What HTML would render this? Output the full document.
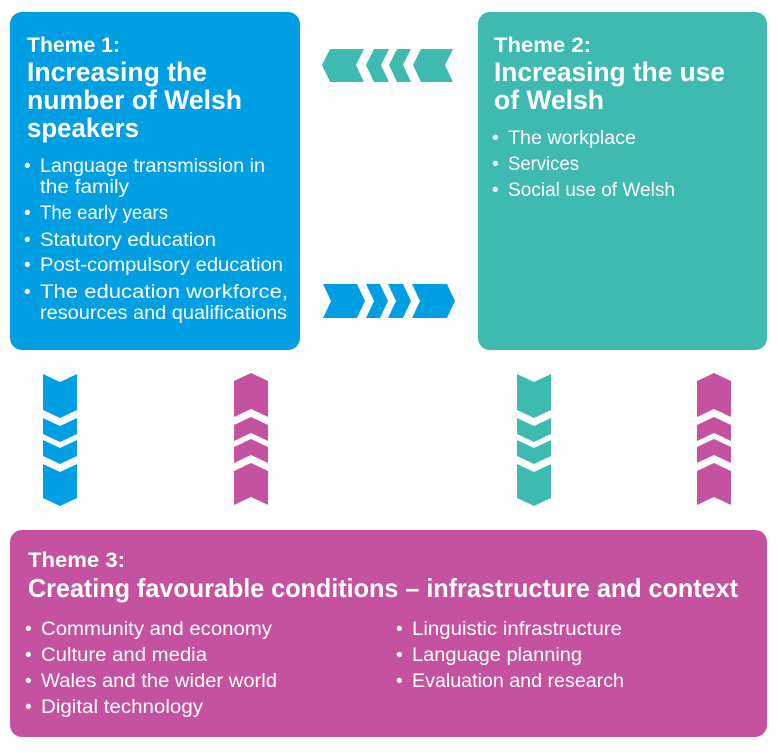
<!DOCTYPE html>
<html><head><meta charset="utf-8"><style>html,body{margin:0;padding:0;background:#fff}svg{display:block}</style></head>
<body>
<svg width="778" height="753" viewBox="0 0 778 753" xmlns="http://www.w3.org/2000/svg" font-family="Liberation Sans, sans-serif" fill="#fff">
<rect x="10" y="12" width="290" height="338" rx="12" fill="#009fe3"/>
<rect x="478" y="12" width="289" height="338" rx="12" fill="#3fbab1"/>
<rect x="10" y="530" width="757" height="207" rx="12" fill="#c452a0"/>

<g fill="#3fbab1">
<polygon points="322,65 330,49 364,49 356,65 364,82 330,82"/>
<polygon points="366,65 374,49 389,49 381,65 389,82 374,82"/>
<polygon points="389,65 397,49 411,49 403,65 411,82 397,82"/>
<polygon points="413,65 421,49 453,49 445,65 453,82 421,82"/>
</g>
<g fill="#009fe3">
<polygon points="323,284 357,284 365,301 357,318 323,318 331,301"/>
<polygon points="366,284 380,284 388,301 380,318 366,318 374,301"/>
<polygon points="388,284 403,284 411,301 403,318 388,318 396,301"/>
<polygon points="412,284 447,284 455,301 447,318 412,318 420,301"/>
</g>
<g fill="#009fe3">
<polygon points="43,374 60,382 77,374 77,410 60,418 43,410"/>
<polygon points="43,418 60,426 77,418 77,434 60,442 43,434"/>
<polygon points="43,440 60,448 77,440 77,456 60,464 43,456"/>
<polygon points="43,464 60,472 77,464 77,498 60,506 43,498"/>
</g>
<g fill="#3fbab1" transform="translate(474,0)">
<polygon points="43,374 60,382 77,374 77,410 60,418 43,410"/>
<polygon points="43,418 60,426 77,418 77,434 60,442 43,434"/>
<polygon points="43,440 60,448 77,440 77,456 60,464 43,456"/>
<polygon points="43,464 60,472 77,464 77,498 60,506 43,498"/>
</g>
<g fill="#c452a0" transform="translate(191,0)">
<polygon points="43,381 60,373 77,381 77,417 60,409 43,417"/>
<polygon points="43,425 60,417 77,425 77,441 60,433 43,441"/>
<polygon points="43,447 60,439 77,447 77,463 60,455 43,463"/>
<polygon points="43,471 60,463 77,471 77,505 60,497 43,505"/>
</g>
<g fill="#c452a0" transform="translate(654,0)">
<polygon points="43,381 60,373 77,381 77,417 60,409 43,417"/>
<polygon points="43,425 60,417 77,425 77,441 60,433 43,441"/>
<polygon points="43,447 60,439 77,447 77,463 60,455 43,463"/>
<polygon points="43,471 60,463 77,471 77,505 60,497 43,505"/>
</g>

<g font-weight="bold" lengthAdjust="spacingAndGlyphs">
<text x="27" y="52" font-size="21" textLength="93" lengthAdjust="spacingAndGlyphs">Theme 1:</text>
<text x="27" y="81" font-size="27" textLength="180" lengthAdjust="spacingAndGlyphs">Increasing the</text>
<text x="27" y="109" font-size="27" textLength="215" lengthAdjust="spacingAndGlyphs">number of Welsh</text>
<text x="27" y="137" font-size="27" textLength="112" lengthAdjust="spacingAndGlyphs">speakers</text>
</g>
<g font-size="19">
<text x="24" y="172">•</text><text x="40" y="172" textLength="225" lengthAdjust="spacingAndGlyphs">Language transmission in</text>
<text x="40" y="193" textLength="89" lengthAdjust="spacingAndGlyphs">the family</text>
<text x="24" y="219">•</text><text x="40" y="219" textLength="128" lengthAdjust="spacingAndGlyphs">The early years</text>
<text x="24" y="246">•</text><text x="40" y="246" textLength="176" lengthAdjust="spacingAndGlyphs">Statutory education</text>
<text x="24" y="271">•</text><text x="40" y="271" textLength="243" lengthAdjust="spacingAndGlyphs">Post-compulsory education</text>
<text x="24" y="298">•</text><text x="40" y="298" textLength="248" lengthAdjust="spacingAndGlyphs">The education workforce,</text>
<text x="40" y="319" textLength="247" lengthAdjust="spacingAndGlyphs">resources and qualifications</text>
</g>

<g font-weight="bold">
<text x="494" y="52" font-size="21" textLength="97" lengthAdjust="spacingAndGlyphs">Theme 2:</text>
<text x="494" y="81" font-size="27" textLength="231" lengthAdjust="spacingAndGlyphs">Increasing the use</text>
<text x="494" y="109" font-size="27" textLength="110" lengthAdjust="spacingAndGlyphs">of Welsh</text>
</g>
<g font-size="19">
<text x="492" y="144">•</text><text x="508" y="144" textLength="128" lengthAdjust="spacingAndGlyphs">The workplace</text>
<text x="492" y="170">•</text><text x="508" y="170" textLength="71" lengthAdjust="spacingAndGlyphs">Services</text>
<text x="492" y="196">•</text><text x="508" y="196" textLength="167" lengthAdjust="spacingAndGlyphs">Social use of Welsh</text>
</g>

<g font-weight="bold">
<text x="28" y="567" font-size="21" textLength="97" lengthAdjust="spacingAndGlyphs">Theme 3:</text>
<text x="28" y="597" font-size="26" textLength="710" lengthAdjust="spacingAndGlyphs">Creating favourable conditions – infrastructure and context</text>
</g>
<g font-size="19">
<text x="25" y="635">•</text><text x="41" y="635" textLength="231" lengthAdjust="spacingAndGlyphs">Community and economy</text>
<text x="25" y="661">•</text><text x="41" y="661" textLength="166" lengthAdjust="spacingAndGlyphs">Culture and media</text>
<text x="25" y="687">•</text><text x="41" y="687" textLength="236" lengthAdjust="spacingAndGlyphs">Wales and the wider world</text>
<text x="25" y="713">•</text><text x="41" y="713" textLength="162" lengthAdjust="spacingAndGlyphs">Digital technology</text>
<text x="396" y="635">•</text><text x="412" y="635" textLength="210" lengthAdjust="spacingAndGlyphs">Linguistic infrastructure</text>
<text x="396" y="661">•</text><text x="412" y="661" textLength="170" lengthAdjust="spacingAndGlyphs">Language planning</text>
<text x="396" y="687">•</text><text x="412" y="687" textLength="212" lengthAdjust="spacingAndGlyphs">Evaluation and research</text>
</g>
</svg>
</body></html>
